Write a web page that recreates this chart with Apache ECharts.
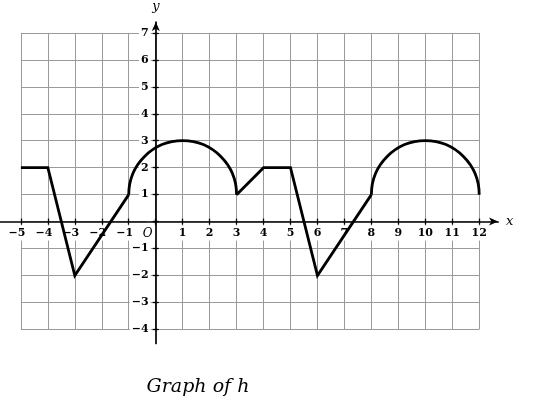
<!DOCTYPE html>
<html><head><meta charset="utf-8">
<script src="https://cdn.jsdelivr.net/npm/echarts@6/dist/echarts.min.js"></script>
<style>html,body{margin:0;padding:0;background:#fff}#c{width:536px;height:410px}</style>
</head><body><div id="c"></div>
<script>
// ---- data ----
const xRange = [-5, 12];
const yRange = [-4, 7];
const segmentA = [[-5, 2], [-4, 2], [-3, -2], [-1, 1]];
const segmentB = [[3, 1], [4, 2], [5, 2], [6, -2], [8, 1]];
// upper semicircles: centre x, centre y, radius
const arcs = [[1, 1, 2], [10, 1, 2]];
const titleText = 'Graph of h';
const axisExtentX = [-5.78, 12.7];
const axisExtentY = [-4.52, 7.42];

// ---- layout ----
const U = 26.96, ox = 155.7, oy = 221.6;
const grid0 = {left: ox + xRange[0] * U, top: oy - yRange[1] * U,
  width: (xRange[1] - xRange[0]) * U, height: (yRange[1] - yRange[0]) * U};
const grid1 = {left: ox + axisExtentX[0] * U, top: oy - axisExtentY[1] * U,
  width: (axisExtentX[1] - axisExtentX[0]) * U, height: (axisExtentY[1] - axisExtentY[0]) * U};

const font = 'DejaVu Serif';
const gridColor = '#9a9a9a';
const axisLineStyle = {color: '#000', width: 1.7};
const tickStyle = {color: '#000', width: 1.3};
const lab = {color: '#000', fontFamily: font, fontWeight: 'bold', fontSize: 11};

function baseAxis(gi, range) {
  return {gridIndex: gi, type: 'value', min: range[0], max: range[1], interval: 1,
    axisLine: {show: false, onZero: false}, axisTick: {show: false},
    axisLabel: {show: false}, splitLine: {show: false}};
}

const xAxes = [
  Object.assign(baseAxis(0, xRange), {position: 'bottom', z: 0,
    splitLine: {show: true, lineStyle: {color: gridColor, width: 1}}}),
  Object.assign(baseAxis(0, xRange), {position: 'bottom', z: 1, offset: yRange[0] * U,
    axisTick: {show: true, length: 3, lineStyle: tickStyle},
    axisLabel: {show: true, margin: 4, backgroundColor: '#fff', padding: [2, 0],
      showMinLabel: true, showMaxLabel: true, hideOverlap: false,
      formatter: v => v === 0 ? '{o|O}' : (v < 0 ? '{n|\u2212' + (-v) + '}' : '{p|' + v + '}'),
      rich: {
        p: Object.assign({}, lab),
        n: Object.assign({}, lab, {padding: [0, 8, 0, 0]}),
        o: {color: '#000', fontFamily: font, fontStyle: 'italic', fontSize: 12, padding: [0, 16, 0, 0]}
      }}}),
  Object.assign(baseAxis(0, xRange), {position: 'top', z: 1, offset: -yRange[1] * U,
    axisTick: {show: true, length: 3, lineStyle: tickStyle}}),
  {gridIndex: 1, type: 'value', min: axisExtentX[0], max: axisExtentX[1], z: 3,
    position: 'bottom', offset: axisExtentY[0] * U,
    axisLine: {show: true, onZero: false, lineStyle: axisLineStyle,
      symbol: ['none', 'arrow'], symbolSize: [6, 9]},
    axisTick: {show: false}, axisLabel: {show: false}, splitLine: {show: false},
    name: 'x', nameLocation: 'end', nameGap: 8,
    nameTextStyle: {color: '#000', fontFamily: font, fontStyle: 'italic', fontSize: 13, verticalAlign: 'middle'}}
];

const yAxes = [
  Object.assign(baseAxis(0, yRange), {position: 'left', z: 0,
    splitLine: {show: true, lineStyle: {color: gridColor, width: 1}}}),
  Object.assign(baseAxis(0, yRange), {position: 'left', z: 1, offset: xRange[0] * U,
    axisTick: {show: true, length: 3, lineStyle: tickStyle},
    axisLabel: Object.assign({show: true, margin: 5, backgroundColor: '#fff', padding: [1, 2],
      showMinLabel: true, showMaxLabel: true, hideOverlap: false,
      formatter: v => v === 0 ? '' : (v < 0 ? '\u2212' + (-v) : '' + v)}, lab)}),
  Object.assign(baseAxis(0, yRange), {position: 'right', z: 1, offset: -xRange[1] * U,
    axisTick: {show: true, length: 3, lineStyle: tickStyle}}),
  {gridIndex: 1, type: 'value', min: axisExtentY[0], max: axisExtentY[1], z: 3,
    position: 'left', offset: axisExtentX[0] * U,
    axisLine: {show: true, onZero: false, lineStyle: axisLineStyle,
      symbol: ['none', 'arrow'], symbolSize: [6, 9]},
    axisTick: {show: false}, axisLabel: {show: false}, splitLine: {show: false},
    name: 'y', nameLocation: 'end', nameGap: 9,
    nameTextStyle: {color: '#000', fontFamily: font, fontStyle: 'italic', fontSize: 13}}
];

const curveStyle = {color: '#000', width: 2.8, join: 'miter', cap: 'butt'};

const chart = echarts.init(document.getElementById('c'), null, {renderer: 'canvas'});
chart.setOption({
  animation: false,
  backgroundColor: '#fff',
  title: {text: titleText, left: 193, top: 373, textAlign: 'center',
    textStyle: {color: '#000', fontFamily: font, fontStyle: 'italic', fontWeight: 'normal', fontSize: 19}},
  grid: [
    Object.assign({containLabel: false}, grid0),
    Object.assign({containLabel: false}, grid1)
  ],
  xAxis: xAxes,
  yAxis: yAxes,
  series: [
    {type: 'line', xAxisIndex: 0, yAxisIndex: 0, data: segmentA, symbol: 'none', z: 5,
      lineStyle: curveStyle, clip: false},
    {type: 'line', xAxisIndex: 0, yAxisIndex: 0, data: segmentB, symbol: 'none', z: 5,
      lineStyle: curveStyle, clip: false},
    {type: 'custom', xAxisIndex: 0, yAxisIndex: 0, data: arcs, z: 5, clip: false,
      encode: {x: 0, y: 1},
      renderItem: function (params, api) {
        const c = api.coord([api.value(0), api.value(1)]);
        const s = api.size([api.value(2), api.value(2)]);
        return {type: 'arc', z2: 5,
          shape: {cx: c[0], cy: c[1], r: (s[0] + s[1]) / 2, startAngle: Math.PI, endAngle: 2 * Math.PI, clockwise: true},
          style: {stroke: '#000', fill: null, lineWidth: 2.8}};
      }}
  ]
});
</script></body></html>
